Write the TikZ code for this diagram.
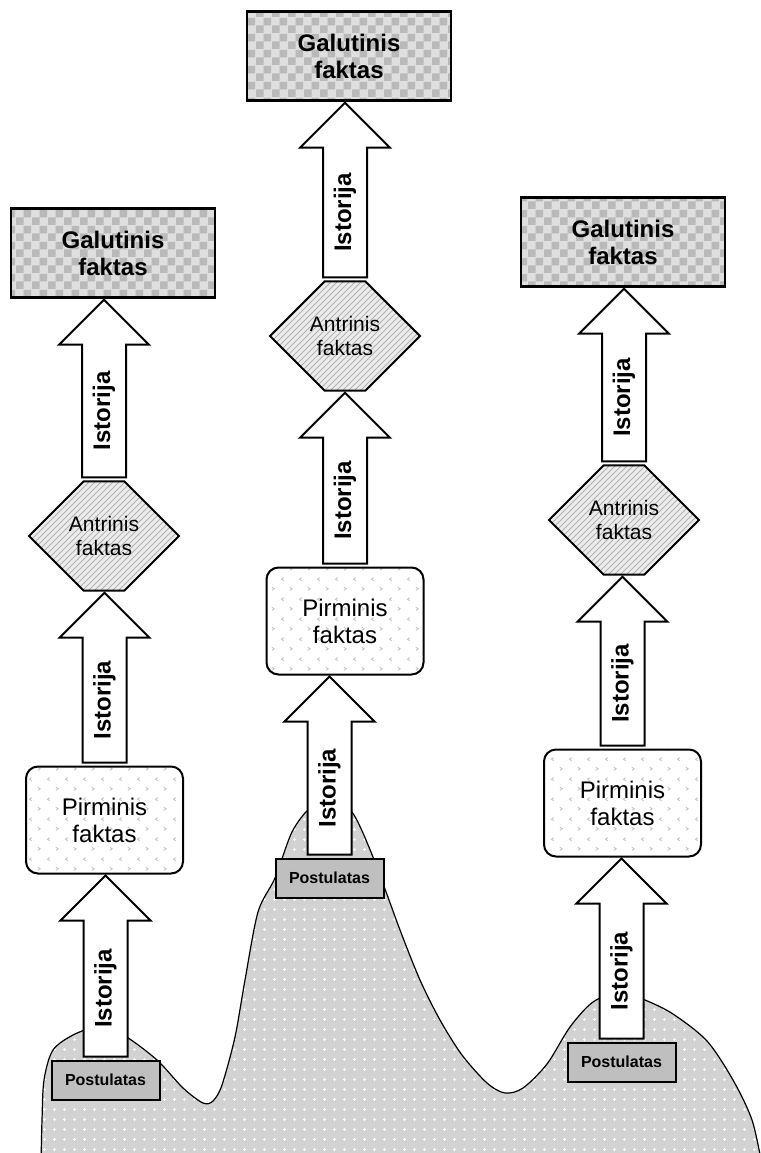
\documentclass[tikz,border=0pt]{standalone}
\usepackage{fontspec}
\setmainfont{Liberation Sans}
\usepackage{tikz}
\usetikzlibrary{calc,positioning,patterns,shapes.misc}

\pgfdeclarepatternformonly{ruitjes}{\pgfpointorigin}{\pgfqpoint{8pt}{8pt}}{\pgfqpoint{8pt}{8pt}}{%
	\pgfpathrectangle{\pgfpointorigin}{\pgfqpoint{4pt}{4pt}}%
	\pgfpathrectangle{\pgfqpoint{4pt}{4pt}}{\pgfqpoint{4pt}{4pt}}%
	\pgfusepath{fill}}
\pgfdeclarepatternformonly{pijltjes}{\pgfpointorigin}{\pgfqpoint{9pt}{10pt}}{\pgfqpoint{9pt}{10pt}}{%
	\pgfsetlinewidth{0.4pt}%
	\pgfpathmoveto{\pgfqpoint{1pt}{3pt}}\pgfpathlineto{\pgfqpoint{2.2pt}{2.2pt}}\pgfpathlineto{\pgfqpoint{1pt}{1.4pt}}%
	\pgfpathmoveto{\pgfqpoint{7.2pt}{8pt}}\pgfpathlineto{\pgfqpoint{6pt}{7.2pt}}\pgfpathlineto{\pgfqpoint{7.2pt}{6.4pt}}%
	\pgfusepath{stroke}}
\pgfdeclarepatternformonly{plusjes}{\pgfpointorigin}{\pgfqpoint{5pt}{5pt}}{\pgfqpoint{5pt}{5pt}}{%
	\pgfsetlinewidth{0.4pt}%
	\pgfpathmoveto{\pgfqpoint{2.5pt}{1.7pt}}\pgfpathlineto{\pgfqpoint{2.5pt}{3.3pt}}%
	\pgfpathmoveto{\pgfqpoint{1.7pt}{2.5pt}}\pgfpathlineto{\pgfqpoint{3.3pt}{2.5pt}}%
	\pgfusepath{stroke}}

\tikzset{
	galutinis/.style={draw, line width=1.2pt, preaction={fill=gray!25}, preaction={pattern=ruitjes, pattern color=gray!55},
		minimum width=102pt, minimum height=44.5pt, inner sep=0pt, align=center,
		font=\fontsize{12}{13.5}\selectfont\bfseries},
	antrinis/.style={chamfered rectangle, chamfered rectangle xsep=18pt, chamfered rectangle ysep=25pt,
		draw, line width=1pt, preaction={fill=gray!15}, preaction={pattern=north east lines, pattern color=gray!60},
		minimum width=75pt, minimum height=50.5pt, inner sep=0pt, align=center,
		font=\fontsize{10.5}{12}\selectfont},
	pirminis/.style={draw, rounded corners=6pt, line width=1pt, preaction={fill=white}, preaction={pattern=pijltjes, pattern color=gray!50},
		minimum width=78.5pt, minimum height=53.5pt, inner sep=0pt, align=center,
		font=\fontsize{12}{13.5}\selectfont},
	postulatas/.style={draw, line width=1pt, fill=gray!50, minimum width=54pt, minimum height=19.5pt,
		inner sep=0pt, font=\fontsize{8}{9}\selectfont\bfseries},
	pijl/.style={draw, line width=1pt, fill=white, line join=miter},
	pijltekst/.style={rotate=90, inner sep=0pt, font=\fontsize{12}{13.5}\selectfont\bfseries},
	berg/.style={draw, line width=0.6pt, preaction={fill=gray!35}, preaction={pattern=plusjes, pattern color=white}}
}

% block arrow from #1 up to #2, text node #3
\newcommand{\istorija}[3]
	{
	\coordinate (voet) at ($(#1.north)+(0,-3)$);
	\coordinate (punt) at ($(#1.north |- #2.south)+(0,1)$);
	\coordinate (hals) at ($(punt)+(0,45)$);
	\draw[pijl] ($(voet)+(-22,0)$) -- ($(hals)+(-22,0)$) -- ($(hals)+(-45,0)$) -- (punt)
		-- ($(hals)+(45,0)$) -- ($(hals)+(22,0)$) -- ($(voet)+(22,0)$) -- cycle;
	\node[pijltekst] (#3) at ($(voet)!0.5!(hals)$) {Istorija};
	}

\begin{document}
\begin{tikzpicture}[x=0.5pt, y=-0.5pt]
    \useasboundingbox (0,0) rectangle (761,1153);

    % hills
    \draw[berg] plot[smooth] coordinates {(41,1165) (42,1120) (44,1080) (53,1050) (75,1034) (100,1027)
        (125,1036) (157,1060) (183,1088) (203,1103) (213,1101) (222,1085) (235,1037) (245,980)
        (258,912) (275,878) (292,832) (310,808) (330,800) (352,812) (373,857) (400,930) (420,980)
        (440,1020) (462,1055) (487,1083) (505,1093) (523,1088) (547,1064) (570,1027) (593,1002)
        (620,992) (645,1000) (673,1014) (707,1041) (733,1080) (752,1120) (762,1165)}
        -- (790,1190) -- (30,1190) -- cycle;

    % left
    \node[galutinis] (gal1) at (113,253) {Galutinis\\faktas};
    \node[antrinis] (ant1) at (104,536) {Antrinis\\faktas};
    \node[pirminis] (pir1) at (104.5,820) {Pirminis\\faktas};
    \node[postulatas] (post1) at (105.5,1080) {Postulatas};
    % middle
    \node[galutinis] (gal2) at (349,56) {Galutinis\\faktas};
    \node[antrinis] (ant2) at (345,336) {Antrinis\\faktas};
    \node[pirminis] (pir2) at (345,621) {Pirminis\\faktas};
    \node[postulatas] (post2) at (329.5,878) {Postulatas};
    % right
    \node[galutinis] (gal3) at (623,242) {Galutinis\\faktas};
    \node[antrinis] (ant3) at (624,520) {Antrinis\\faktas};
    \node[pirminis] (pir3) at (622.5,803) {Pirminis\\faktas};
    \node[postulatas] (post3) at (621.5,1062) {Postulatas};

    % arrows
    \istorija{post1}{pir1}{ist1a}
    \istorija{pir1}{ant1}{ist1b}
    \istorija{ant1}{gal1}{ist1c}
    \istorija{post2}{pir2}{ist2a}
    \istorija{pir2}{ant2}{ist2b}
    \istorija{ant2}{gal2}{ist2c}
    \istorija{post3}{pir3}{ist3a}
    \istorija{pir3}{ant3}{ist3b}
    \istorija{ant3}{gal3}{ist3c}
\end{tikzpicture}
\end{document}
